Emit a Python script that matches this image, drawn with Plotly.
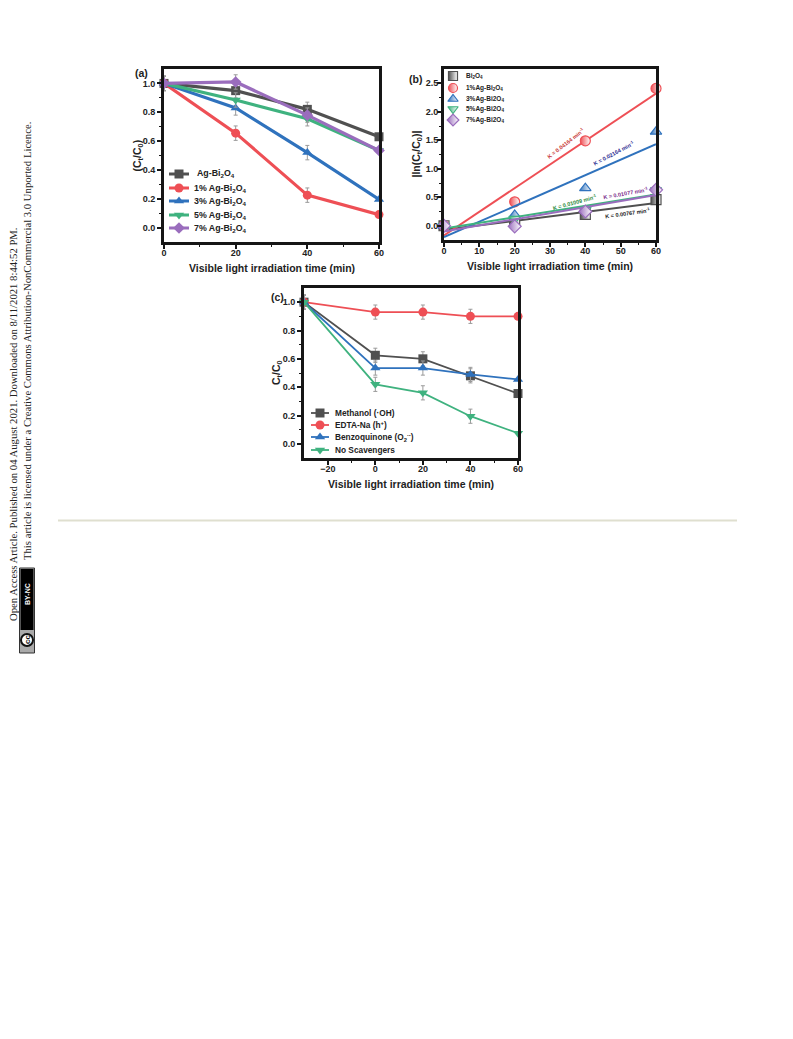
import plotly.graph_objects as go

W, H = 793, 1039
PAGE = 8  # default page margin round the figure
FW, FH = W - 2 * PAGE, H - 2 * PAGE
FONT = "Liberation Sans"
BLACK = "#161616"
GRAY, RED, BLUE, GREEN, PURPLE = "#505050", "#ee4f55", "#2f72bd", "#3fb27f", "#9a6dbd"
SYMBOLS = ["square", "circle", "triangle-up", "triangle-down", "diamond"]

# Panel (a)
a_x = [0, 20, 40, 60]
a_names = ["Ag-Bi<sub>2</sub>O<sub>4</sub>", "1% Ag-Bi<sub>2</sub>O<sub>4</sub>", "3% Ag-Bi<sub>2</sub>O<sub>4</sub>",
           "5% Ag-Bi<sub>2</sub>O<sub>4</sub>", "7% Ag-Bi<sub>2</sub>O<sub>4</sub>"]
a_gray = [1.0, 0.95, 0.82, 0.63]
a_red = [1.0, 0.655, 0.225, 0.09]
a_blue = [1.0, 0.83, 0.52, 0.195]
a_green = [1.0, 0.885, 0.755, 0.535]
a_purple = [1.0, 1.01, 0.78, 0.535]
a_err = [0.05, 0.05, 0.05, 0.0]

# Panel (b)
b_x = [0, 20, 40, 60]
b_names = ["Bi<sub>2</sub>O<sub>4</sub>", "1%Ag-Bi<sub>2</sub>O<sub>4</sub>", "3%Ag-Bi2O<sub>4</sub>",
           "5%Ag-Bi2O<sub>4</sub>", "7%Ag-Bi2O<sub>4</sub>"]
b_gray = [0.0, 0.07, 0.2, 0.46]
b_red = [0.0, 0.42, 1.49, 2.41]
b_blue = [0.0, 0.19, 0.66, 1.65]
b_green = [0.0, 0.12, 0.28, 0.62]
b_purple = [0.0, -0.01, 0.25, 0.63]
b_fit_x = [0, 60]
b_fit_gray = [-0.07, 0.40]
b_fit_red = [-0.17, 2.32]
b_fit_blue = [-0.2, 1.43]
b_fit_green = [-0.05, 0.55]
b_fit_purple = [-0.1, 0.54]

# Panel (c)
c_x = [-30, 0, 20, 40, 60]
c_names = ["Methanol (&#183;OH)", "EDTA-Na (h<sup>+</sup>)", "Benzoquinone (O<sub>2</sub><sup>&#183;-</sup>)", "No Scavengers"]
c_gray = [1.0, 0.625, 0.6, 0.48, 0.355]
c_red = [1.0, 0.93, 0.93, 0.9, 0.9]
c_blue = [1.0, 0.535, 0.535, 0.49, 0.455]
c_green = [1.0, 0.42, 0.36, 0.195, 0.075]
c_err = [0.05, 0.05, 0.05, 0.05, 0.0]


def px(x):
    return (x - PAGE) / FW


def py(y):
    return 1 - (y - PAGE) / FH


fig = go.Figure()


def note(x, y, text, size, color="#222222", angle=0, bold=True, family=FONT, xanchor="center"):
    fig.add_annotation(xref="paper", yref="paper", x=px(x), y=py(y), text=f"<b>{text}</b>" if bold else text,
                       showarrow=False, textangle=angle, xanchor=xanchor, yanchor="middle",
                       font=dict(family=family, size=size, color=color))


def frame(n, left, right, top, bottom, xr, yr, xticks, yticks, xminor, yminor, ylab, xlab_y, ylab_x, ystand=0):
    sx = "" if n == 1 else str(n)
    common = dict(showgrid=False, zeroline=False, showline=True, linecolor=BLACK, linewidth=3, mirror=True,
                  ticks="outside", tickwidth=1.5, ticklen=4, tickcolor=BLACK,
                  tickfont=dict(family=FONT, size=9, color="#222222", weight="bold"))
    fig.layout["xaxis" + sx] = dict(common, domain=[px(left), px(right)], range=xr, tickvals=xticks,
                                    anchor="y" + sx, ticklabelstandoff=-4,
                                    minor=dict(tickvals=xminor, ticks="outside", ticklen=2,
                                               tickcolor=BLACK, tickwidth=1))
    fig.layout["yaxis" + sx] = dict(common, domain=[py(bottom), py(top)], range=yr, tickvals=yticks,
                                    tickformat=".1f", anchor="x" + sx, ticklabelstandoff=ystand,
                                    minor=dict(tickvals=yminor, ticks="outside", ticklen=2,
                                               tickcolor=BLACK, tickwidth=1))
    note((left + right) / 2, xlab_y, "Visible light irradiation time (min)", 10.5)
    note(ylab_x, (top + bottom) / 2, ylab, 10.5, angle=-90)


def series(n, x, y, color, symbol, err=None, width=3, size=9):
    sx = "" if n == 1 else str(n)
    fig.add_trace(go.Scatter(
        x=x, y=y, xaxis="x" + sx, yaxis="y" + sx, mode="lines+markers", cliponaxis=False, showlegend=False,
        line=dict(color=color, width=width), marker=dict(symbol=symbol, size=size, color=color),
        error_y=dict(type="data", array=err, color="#9a9a9a", thickness=1, width=2) if err else None))


def key(names, colors, line_x, text_x, rows, size, width, msize, half=False):
    """Hand-built legend: plotly's own legend cannot pack rows this tightly."""
    for name, col, sym, row, tx in zip(names, colors, SYMBOLS, rows, text_x):
        mid = sum(line_x) / 2
        marker = dict(symbol=sym, size=msize, color=col)
        if half:
            marker.update(line=dict(color=col, width=1.2), gradient=dict(type="horizontal", color="#ffffff"))
        else:
            fig.add_trace(go.Scatter(x=line_x, y=[row, row], xaxis="x4", yaxis="y4", mode="lines",
                                     showlegend=False, line=dict(color=col, width=width)))
        fig.add_trace(go.Scatter(x=[mid], y=[row], xaxis="x4", yaxis="y4", mode="markers",
                                 showlegend=False, marker=marker))
        note(tx, row, name, size, xanchor="left")


frame(1, 164, 379, 69, 242, [0, 60], [-0.1, 1.1], a_x, [0, 0.2, 0.4, 0.6, 0.8, 1.0],
      [10, 30, 50], [0.1, 0.3, 0.5, 0.7, 0.9], "(C<sub>t</sub>/C<sub>0</sub>)", 268, 138)
frame(2, 444, 656, 69, 240, [0, 60], [-0.25, 2.75], [0, 10, 20, 30, 40, 50, 60], [0, 0.5, 1.0, 1.5, 2.0, 2.5],
      [5, 15, 25, 35, 45, 55], [0.25, 0.75, 1.25, 1.75, 2.25], "|ln(C<sub>t</sub>/C<sub>0</sub>)|", 266, 417, ystand=-3)
frame(3, 304, 518, 288, 458, [-30, 60], [-0.1, 1.1], [-20, 0, 20, 40, 60], [0, 0.2, 0.4, 0.6, 0.8, 1.0],
      [-10, 10, 30, 50], [0.1, 0.3, 0.5, 0.7, 0.9], "C<sub>t</sub>/C<sub>0</sub>", 484, 277)

# Overlay axis in page pixels, used only for the legend keys
fig.layout["xaxis4"] = dict(domain=[0, 1], range=[PAGE, W - PAGE], visible=False, anchor="y4", fixedrange=True)
fig.layout["yaxis4"] = dict(domain=[0, 1], range=[H - PAGE, PAGE], visible=False, anchor="x4", fixedrange=True)

for vals, col, sym in zip([a_gray, a_red, a_blue, a_green, a_purple],
                          [GRAY, RED, BLUE, GREEN, PURPLE], SYMBOLS):
    series(1, a_x, vals, col, sym, a_err, width=3.2, size=9)

for vals, fit, col, sym in zip([b_gray, b_red, b_blue, b_green, b_purple],
                               [b_fit_gray, b_fit_red, b_fit_blue, b_fit_green, b_fit_purple],
                               [GRAY, RED, BLUE, GREEN, PURPLE], SYMBOLS):
    fig.add_trace(go.Scatter(x=b_fit_x, y=fit, xaxis="x2", yaxis="y2", mode="lines", showlegend=False,
                             line=dict(color=col, width=2), cliponaxis=False))
    fig.add_trace(go.Scatter(x=b_x, y=vals, xaxis="x2", yaxis="y2", mode="markers", cliponaxis=False, showlegend=False,
                             marker=dict(symbol=sym, size=10, color=col, line=dict(color=col, width=1.2),
                                         gradient=dict(type="horizontal", color="#ffffff"))))

for vals, col, sym in zip([c_gray, c_red, c_blue, c_green], [GRAY, RED, BLUE, GREEN], SYMBOLS):
    series(3, c_x, vals, col, sym, c_err, width=1.8, size=9)

key(a_names, [GRAY, RED, BLUE, GREEN, PURPLE], [169, 189], [195, 192, 192, 192, 192],
    [174, 188, 201, 215, 228], 8.8, 3, 9)
key(b_names, [GRAY, RED, BLUE, GREEN, PURPLE], [453, 453], [464] * 5,
    [76, 88, 99, 109, 120], 6.5, 1, 9, half=True)
key(c_names, [GRAY, RED, BLUE, GREEN], [311, 329], [333] * 4,
    [413, 425, 437, 450], 8.3, 1.8, 9)

# Panel letters
note(141, 73, "(a)", 10.5)
note(416, 79, "(b)", 10.5)
note(277, 297, "(c)", 10.5)

# Rate-constant labels
note(566, 143, "K = 0.04164 min<sup>-1</sup>", 5.5, "#c83a3a", -38)
note(614, 153, "K = 0.02164 min<sup>-1</sup>", 5.5, "#2a2a90", -28)
note(575, 202, "K = 0.01009 min<sup>-1</sup>", 5.5, "#2e8b3c", -15)
note(626, 193, "K = 0.01077 min<sup>-1</sup>", 5.5, "#7a2a8a", -10)
note(628, 213, "K = 0.00767 min<sup>-1</sup>", 5.5, "#222222", -8)

# Page furniture
SERIF = "Liberation Serif"
note(13, 424, "Open Access Article. Published on 04 August 2021. Downloaded on 8/11/2021 8:44:52 PM.",
     10.7, "#222222", -90, bold=False, family=SERIF)
note(27, 341, "This article is licensed under a Creative Commons Attribution-NonCommercial 3.0 Unported Licence.",
     10.7, "#222222", -90, bold=False, family=SERIF)
note(27, 594, "BY-NC", 7, "#ffffff", -90)
note(27, 640, "cc", 8, "#111111", -90)

fig.update_layout(
    width=FW, height=FH, margin=dict(l=0, r=0, t=0, b=0, autoexpand=False), paper_bgcolor="white",
    plot_bgcolor="rgba(0,0,0,0)", font=dict(family=FONT), showlegend=False,
    shapes=[
        dict(type="line", xref="paper", yref="paper", x0=px(58), x1=px(737), y0=py(520.5), y1=py(520.5),
             line=dict(color="#dfdfcf", width=2)),
        dict(type="rect", xref="paper", yref="paper", x0=px(19.5), x1=px(34.5), y0=py(568), y1=py(653),
             fillcolor="#aaaaaa", line=dict(color="#333333", width=1)),
        dict(type="rect", xref="paper", yref="paper", x0=px(20.5), x1=px(33.5), y0=py(569), y1=py(630),
             fillcolor="#000000", line=dict(width=0)),
        dict(type="circle", xref="paper", yref="paper", x0=px(21), x1=px(33), y0=py(634), y1=py(646),
             fillcolor="#ffffff", line=dict(color="#111111", width=2)),
    ],
)
fig.write_html("out.html")
